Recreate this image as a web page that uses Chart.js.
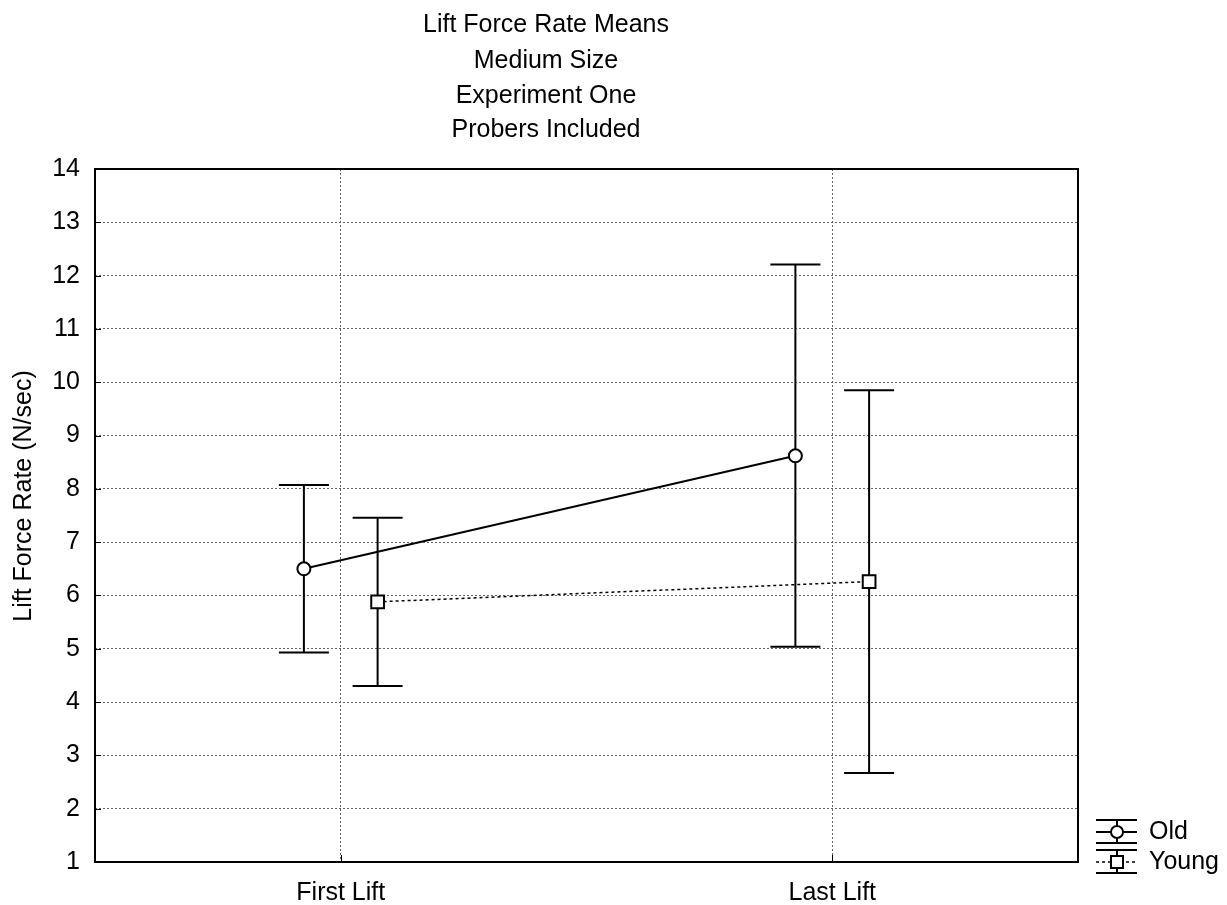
<!DOCTYPE html>
<html>
<head>
<meta charset="utf-8">
<script src="https://cdn.jsdelivr.net/npm/chart.js@4/dist/chart.umd.min.js"></script>
<style>
  html, body { margin: 0; padding: 0; background: #fff; }
  canvas { display: block; }
</style>
</head>
<body>
<canvas id="chart" width="1227" height="905"></canvas>
<script>
// chart data
const titleLines = ["Lift Force Rate Means", "Medium Size", "Experiment One", "Probers Included"];
const yAxisTitle = "Lift Force Rate (N/sec)";
const categories = ["First Lift", "Last Lift"];
const categoryX = [1, 3];
const groups = ["Old", "Young"];
const groupOffset = [-0.15, 0.15];
const oldMeans = [6.5, 8.62];
const oldLower = [4.93, 5.04];
const oldUpper = [8.07, 12.21];
const youngMeans = [5.88, 6.26];
const youngLower = [4.3, 2.67];
const youngUpper = [7.46, 9.85];
const yMin = 1;
const yMax = 14;

const FONT = '"Liberation Sans", Arial, sans-serif';
Chart.defaults.font.family = FONT;
Chart.defaults.font.size = 25;
Chart.defaults.color = "#000";

const makePoints = (means, lower, upper, off) =>
  categoryX.map((x, i) => ({ x: x + off, y: means[i], lo: lower[i], hi: upper[i] }));

// whiskers drawn under the markers
const errorBars = {
  id: "errorBars",
  beforeDatasetsDraw(chart) {
    const { ctx, scales } = chart;
    ctx.save();
    ctx.strokeStyle = "#000";
    ctx.lineWidth = 2;
    chart.data.datasets.forEach((ds) => {
      ds.data.forEach((p) => {
        const x = scales.x.getPixelForValue(p.x);
        const yt = scales.y.getPixelForValue(p.hi);
        const yb = scales.y.getPixelForValue(p.lo);
        ctx.beginPath();
        ctx.moveTo(x, yt); ctx.lineTo(x, yb);
        ctx.moveTo(x - 25, yt); ctx.lineTo(x + 25, yt);
        ctx.moveTo(x - 25, yb); ctx.lineTo(x + 25, yb);
        ctx.stroke();
      });
    });
    ctx.restore();
  }
};

// frame, inner ticks, titles and legend
const decorations = {
  id: "decorations",
  afterDraw(chart) {
    const { ctx, chartArea: a, scales } = chart;
    ctx.save();
    ctx.strokeStyle = "#000";
    ctx.lineWidth = 2;
    ctx.strokeRect(a.left, a.top, a.right - a.left, a.bottom - a.top);
    ctx.lineWidth = 1;
    ctx.beginPath();
    scales.y.ticks.forEach((t) => {
      const y = Math.round(scales.y.getPixelForValue(t.value)) + 0.5;
      ctx.moveTo(a.left, y); ctx.lineTo(a.left + 6, y);
    });
    scales.x.ticks.forEach((t) => {
      const x = Math.round(scales.x.getPixelForValue(t.value)) + 0.5;
      ctx.moveTo(x, a.bottom); ctx.lineTo(x, a.bottom - 7);
    });
    ctx.stroke();

    ctx.fillStyle = "#000";
    ctx.font = "25px " + FONT;
    ctx.textAlign = "center";
    ctx.textBaseline = "alphabetic";
    const baselines = [32, 68, 103, 137];
    titleLines.forEach((line, i) => ctx.fillText(line, 546, baselines[i]));

    ctx.save();
    ctx.translate(31, 496);
    ctx.rotate(-Math.PI / 2);
    ctx.fillText(yAxisTitle, 0, 0);
    ctx.restore();

    // legend
    const rows = [832, 862];
    chart.data.datasets.forEach((ds, i) => {
      const cy = rows[i];
      const x0 = 1096, x1 = 1137, cx = 1117;
      ctx.lineWidth = 2;
      ctx.setLineDash([]);
      ctx.beginPath();
      ctx.moveTo(x0, cy - 12); ctx.lineTo(x1, cy - 12);
      ctx.moveTo(x0, cy + 11); ctx.lineTo(x1, cy + 11);
      ctx.moveTo(cx, cy - 12); ctx.lineTo(cx, cy + 11);
      ctx.stroke();
      ctx.lineWidth = ds.borderWidth;
      ctx.setLineDash(ds.borderDash || []);
      ctx.beginPath();
      ctx.moveTo(x0, cy); ctx.lineTo(x1, cy);
      ctx.stroke();
      ctx.setLineDash([]);
      ctx.lineWidth = 2;
      ctx.fillStyle = "#fff";
      if (ds.pointStyle === "circle") {
        ctx.beginPath();
        ctx.arc(cx, cy, 6, 0, Math.PI * 2);
        ctx.fill(); ctx.stroke();
      } else {
        ctx.fillRect(cx - 6, cy - 6, 12, 12);
        ctx.strokeRect(cx - 6, cy - 6, 12, 12);
      }
      ctx.fillStyle = "#000";
      ctx.textAlign = "left";
      ctx.textBaseline = "middle";
      ctx.fillText(ds.label, 1149, cy);
    });
    ctx.restore();
  }
};

new Chart(document.getElementById("chart"), {
  type: "line",
  data: {
    datasets: [
      {
        label: groups[0],
        data: makePoints(oldMeans, oldLower, oldUpper, groupOffset[0]),
        borderColor: "#000",
        borderWidth: 2,
        pointStyle: "circle",
        pointRadius: 6.5,
        pointBackgroundColor: "#fff",
        pointBorderColor: "#000",
        pointBorderWidth: 2
      },
      {
        label: groups[1],
        data: makePoints(youngMeans, youngLower, youngUpper, groupOffset[1]),
        borderColor: "#000",
        borderWidth: 1.5,
        borderDash: [3, 3],
        pointStyle: "rect",
        pointRadius: 9,
        pointBackgroundColor: "#fff",
        pointBorderColor: "#000",
        pointBorderWidth: 2
      }
    ]
  },
  options: {
    responsive: false,
    animation: false,
    events: [],
    layout: { padding: { left: 0, right: 149, top: 169, bottom: 0 } },
    plugins: { legend: { display: false }, title: { display: false }, tooltip: { enabled: false } },
    scales: {
      x: {
        type: "linear",
        min: 0,
        max: 4,
        afterFit: (s) => { s.height = 43; },
        afterBuildTicks: (s) => { s.ticks = categoryX.map((v) => ({ value: v })); },
        ticks: { padding: 16, callback: (v) => categories[categoryX.indexOf(v)] },
        grid: { color: "#666", lineWidth: 1, drawTicks: false },
        border: { display: false, dash: [2, 2] }
      },
      y: {
        min: yMin,
        max: yMax,
        afterFit: (s) => { s.width = 95; },
        ticks: { stepSize: 1, padding: 15 },
        grid: { color: "#666", lineWidth: 1, drawTicks: false },
        border: { display: false, dash: [2, 2] }
      }
    }
  },
  plugins: [errorBars, decorations]
});
</script>
</body>
</html>
